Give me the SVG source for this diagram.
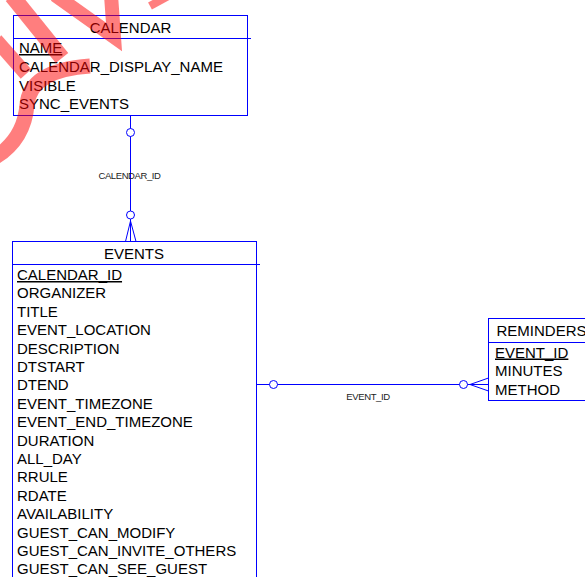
<svg xmlns="http://www.w3.org/2000/svg" width="585" height="577" viewBox="0 0 585 577">
  <style>
    .box { fill: #ffffff; stroke: #0000ff; stroke-width: 1; }
    .rule { stroke: #0000ff; stroke-width: 1; fill: none; }
    .title { font-family: "Liberation Sans", Arial, sans-serif; font-size: 15px; fill: #000; text-anchor: middle; }
    .col { font-family: "Liberation Sans", Arial, sans-serif; font-size: 15px; fill: #000; }
    .key { text-decoration: underline; }
    .rel { font-family: "Liberation Sans", Arial, sans-serif; font-size: 9.5px; fill: #222; text-anchor: middle; letter-spacing: -0.4px; }
    .link { stroke: #0000ff; stroke-width: 1; fill: none; }
    .opt { stroke: #0000ff; stroke-width: 1; fill: #ffffff; }
  </style>
  <rect width="585" height="577" fill="#ffffff"/>

  <!-- CALENDAR table -->
  <g id="calendar">
    <rect class="box" x="13.5" y="15.5" width="234" height="100"/>
    <line class="rule" x1="13.5" y1="38.5" x2="251" y2="38.5"/>
    <text class="title" x="130.5" y="33">CALENDAR</text>
    <text class="col key" x="19" y="53">NAME</text>
    <text class="col" x="19" y="72">CALENDAR_DISPLAY_NAME</text>
    <text class="col" x="19" y="90.5">VISIBLE</text>
    <text class="col" x="19" y="109">SYNC_EVENTS</text>
  </g>

  <!-- EVENTS table -->
  <g id="events">
    <rect class="box" x="12.5" y="241.5" width="244" height="345"/>
    <line class="rule" x1="12.5" y1="264.5" x2="260" y2="264.5"/>
    <text class="title" x="134" y="258.5">EVENTS</text>
    <text class="col key" x="17" y="280">CALENDAR_ID</text>
    <text class="col" x="17" y="298.4">ORGANIZER</text>
    <text class="col" x="17" y="316.8">TITLE</text>
    <text class="col" x="17" y="335.2">EVENT_LOCATION</text>
    <text class="col" x="17" y="353.6">DESCRIPTION</text>
    <text class="col" x="17" y="372">DTSTART</text>
    <text class="col" x="17" y="390.4">DTEND</text>
    <text class="col" x="17" y="408.8">EVENT_TIMEZONE</text>
    <text class="col" x="17" y="427.2">EVENT_END_TIMEZONE</text>
    <text class="col" x="17" y="445.6">DURATION</text>
    <text class="col" x="17" y="464">ALL_DAY</text>
    <text class="col" x="17" y="482.4">RRULE</text>
    <text class="col" x="17" y="500.8">RDATE</text>
    <text class="col" x="17" y="519.2">AVAILABILITY</text>
    <text class="col" x="17" y="537.6">GUEST_CAN_MODIFY</text>
    <text class="col" x="17" y="556">GUEST_CAN_INVITE_OTHERS</text>
    <text class="col" x="17" y="574.4">GUEST_CAN_SEE_GUEST</text>
  </g>

  <!-- REMINDERS table -->
  <g id="reminders">
    <rect class="box" x="488.5" y="318.5" width="120" height="82"/>
    <line class="rule" x1="488.5" y1="342.5" x2="600" y2="342.5"/>
    <text class="col" x="496.5" y="336">REMINDERS</text>
    <text class="col key" x="495" y="357.5">EVENT_ID</text>
    <text class="col" x="495" y="376">MINUTES</text>
    <text class="col" x="495" y="394.5">METHOD</text>
  </g>

  <!-- relationships -->
  <g id="connectors">
    <!-- CALENDAR 1 : N EVENTS -->
    <line class="link" x1="130.5" y1="115.5" x2="130.5" y2="241.5"/>
    <line class="link" x1="130.5" y1="221" x2="125.5" y2="241.5"/>
    <line class="link" x1="130.5" y1="221" x2="136" y2="241.5"/>
    <circle class="opt" cx="130.5" cy="132.5" r="4"/>
    <circle class="opt" cx="130.5" cy="215" r="4"/>
    <text class="rel" x="129.5" y="178.5">CALENDAR_ID</text>

    <!-- EVENTS 1 : N REMINDERS -->
    <line class="link" x1="256.5" y1="384.5" x2="488.5" y2="384.5"/>
    <line class="link" x1="470" y1="384.5" x2="488.5" y2="378"/>
    <line class="link" x1="470" y1="384.5" x2="488.5" y2="391"/>
    <circle class="opt" cx="273.5" cy="384.5" r="4"/>
    <circle class="opt" cx="463.5" cy="384.5" r="4"/>
    <text class="rel" x="368" y="400">EVENT_ID</text>
  </g>

  <!-- red marker strokes drawn over the top-left corner -->
  <g id="marker" opacity="0.5" fill="none" stroke="#ff0000" stroke-linejoin="miter">
    <path d="M 12 -4 L 62 58" stroke-width="16"/>
    <path d="M -4 40 L 26 74" stroke-width="14"/>
    <path d="M 90 66 Q 30 70 27 105 Q 24 140 -6 158" stroke-width="15"/>
    <path d="M 55 -5 L 114 37 L 111 -5" stroke-width="14"/>
    <path d="M 150 6 L 172 -6" stroke-width="8"/>
  </g>
</svg>
